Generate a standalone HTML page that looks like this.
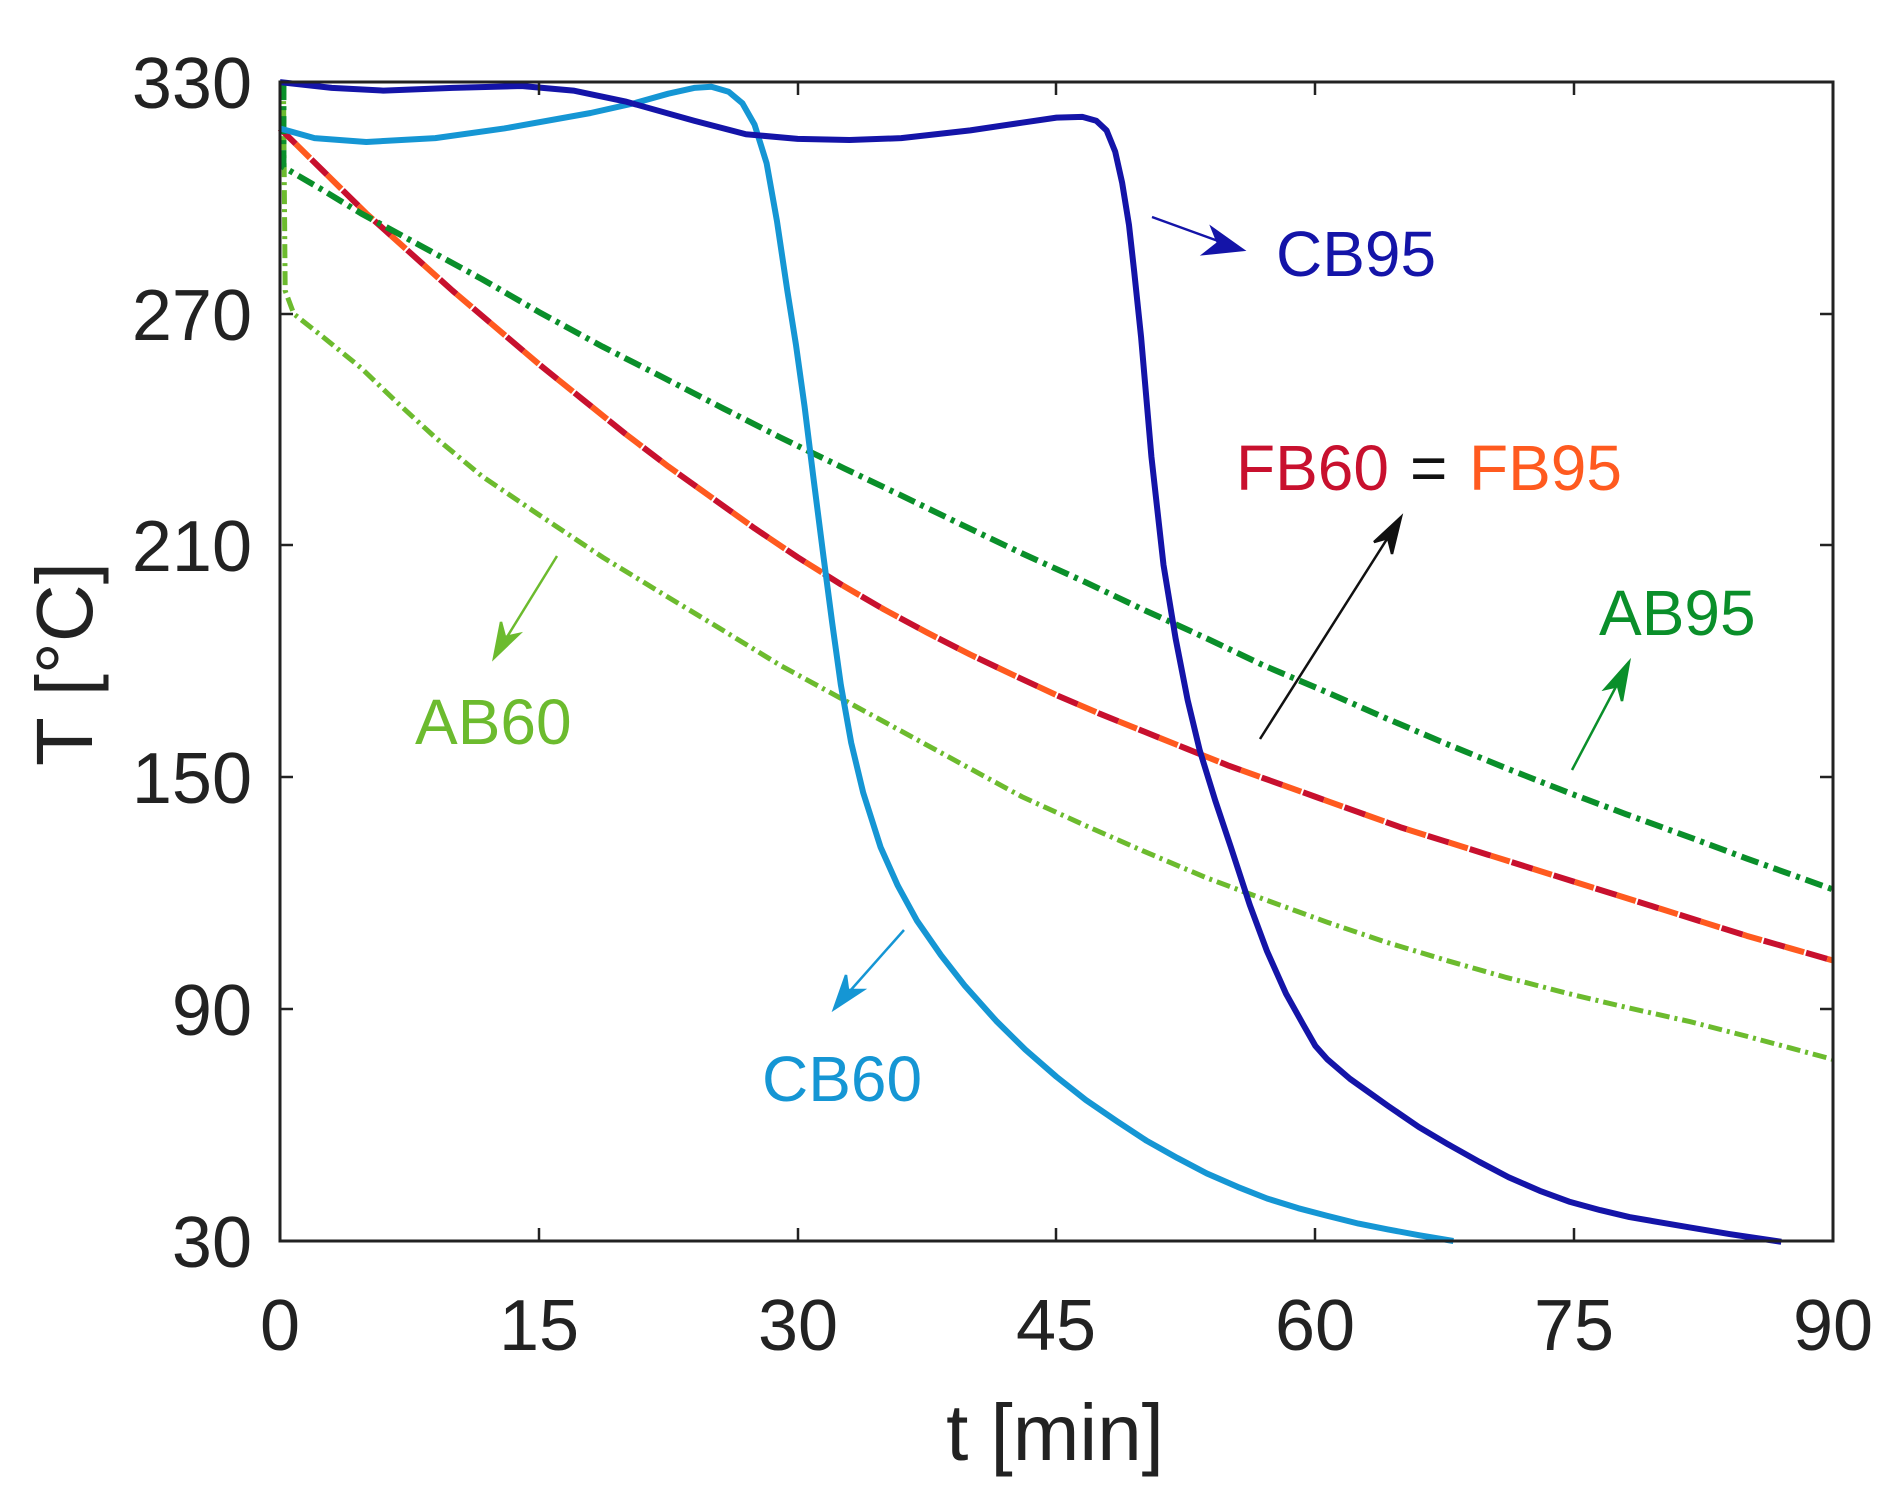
<!DOCTYPE html>
<html><head><meta charset="utf-8"><style>
html,body{margin:0;padding:0;background:#fff;}
svg{display:block;font-family:"Liberation Sans",sans-serif;}
</style></head><body>
<svg width="1892" height="1503" viewBox="0 0 1892 1503" xmlns="http://www.w3.org/2000/svg">
<g transform="translate(280,1241) scale(17.256,-3.863) translate(0,-30)" fill="none" stroke-linejoin="round" stroke-linecap="butt">
<!-- AB60 -->
<path vector-effect="non-scaling-stroke" stroke="#6cbb2e" stroke-width="5" stroke-dasharray="14 5 3 5" d="M0.2,330 L0.3,276 L0.8,270 L2.5,264 L4.7,256 L6.8,247 L9,238 L11.7,228 L15,218 L18.7,207 L22,198 L25.7,188 L29,179 L32.7,170 L36,162 L39.7,153 L43,145 L46.7,137.5 L50,131 L53.7,124 L57,118.5 L60.7,112.5 L64,107.5 L67.7,102.5 L71,98.3 L74.7,94 L78,90.5 L81.7,86.8 L85,83 L87.5,80 L90,77"/>
<!-- FB red/orange -->
<path vector-effect="non-scaling-stroke" stroke="#c8102e" stroke-width="6" stroke-dasharray="22 22" d="M0,318 L2.5,307 L5,296 L7.5,286 L10,276 L12.5,266.5 L15,257 L17.5,248 L20,239 L22.5,230.5 L25,222.5 L27.5,214.5 L30,207 L32.5,200 L35,193.5 L37.5,187.5 L40,181.8 L42.5,176.5 L45,171.3 L47.5,166.5 L50,162 L52.5,157.5 L55,153 L57.5,149 L60,145 L62.5,141 L65,137 L67.5,133.5 L70,130 L72.5,126.5 L75,123 L77.5,119.5 L80,116 L82.5,112.5 L85,109 L87.5,105.8 L90,102.6"/>
<path vector-effect="non-scaling-stroke" stroke="#ff5a1f" stroke-width="6" stroke-dasharray="20 24" stroke-dashoffset="22" d="M0,318 L2.5,307 L5,296 L7.5,286 L10,276 L12.5,266.5 L15,257 L17.5,248 L20,239 L22.5,230.5 L25,222.5 L27.5,214.5 L30,207 L32.5,200 L35,193.5 L37.5,187.5 L40,181.8 L42.5,176.5 L45,171.3 L47.5,166.5 L50,162 L52.5,157.5 L55,153 L57.5,149 L60,145 L62.5,141 L65,137 L67.5,133.5 L70,130 L72.5,126.5 L75,123 L77.5,119.5 L80,116 L82.5,112.5 L85,109 L87.5,105.8 L90,102.6"/>
<!-- AB95 -->
<path vector-effect="non-scaling-stroke" stroke="#0a8f2a" stroke-width="6" stroke-dasharray="18 6 4 6" d="M0.2,330 L0.2,308 L2.5,302 L4.7,296 L8,288 L11.7,279 L15,270.5 L18.7,261.5 L22,254 L25.7,245.5 L29,238 L32.7,230 L36,223 L39.7,215 L43,208 L46.7,200.5 L50,193.5 L53.7,186 L57,179 L60.7,172 L64,165.5 L67.7,158.5 L71,152.5 L74.7,146 L78,140.5 L81.7,134.5 L85,129 L90,121"/>
<!-- CB60 -->
<path vector-effect="non-scaling-stroke" stroke="#1596d4" stroke-width="6" d="M0,318 L2,315.5 L5,314.5 L9,315.5 L13,318 L18,322 L20.5,324.5 L22.5,327 L24,328.5 L25,328.8 L26,327.5 L26.8,324.5 L27.5,319 L28.2,309 L28.8,294 L29.4,276 L29.9,262 L30.4,246 L30.9,228 L31.5,207 L32,190 L32.5,174 L33.1,159 L33.8,146 L34.8,132 L35.8,122 L36.9,113 L38.3,104 L39.7,96 L41.5,87 L43.2,79.5 L45,72.5 L46.7,66.5 L48.5,61 L50.2,56 L52,51.5 L53.7,47.5 L55.5,44 L57.2,41 L59,38.5 L60.7,36.5 L62.5,34.5 L64.2,33 L66,31.5 L68,30"/>
<!-- CB95 -->
<path vector-effect="non-scaling-stroke" stroke="#1414a8" stroke-width="6" d="M0,330 L3,328.5 L6,327.8 L10,328.5 L14,329 L17,327.8 L20,325 L24,320 L27,316.5 L30,315.3 L33,315 L36,315.5 L40,317.5 L43,319.5 L45,320.8 L46.5,321 L47.3,320 L47.9,317.5 L48.4,312 L48.8,304 L49.2,293 L49.5,281 L49.9,264 L50.5,233 L51.2,205 L51.9,186 L52.6,170 L53.3,157 L54.2,144 L55.1,132 L56.2,117 L57.2,105 L58.3,94 L59.3,86 L60,80.5 L60.7,77 L62,72 L64.2,65 L66,59.5 L67.7,55 L69.5,50.5 L71.2,46.5 L73,43 L74.7,40.2 L76.5,38 L78.2,36.2 L80,34.8 L81.7,33.5 L84,31.8 L87,29.8"/>
</g>
<!-- axes box -->
<rect x="280" y="82" width="1553" height="1159" fill="none" stroke="#222" stroke-width="3"/>
<g stroke="#222" stroke-width="2.5">
<path d="M539,1241v-13M798,1241v-13M1056,1241v-13M1315,1241v-13M1574,1241v-13
M539,82v13M798,82v13M1056,82v13M1315,82v13M1574,82v13
M280,1009h13M280,777h13M280,545h13M280,314h13
M1833,1009h-13M1833,777h-13M1833,545h-13M1833,314h-13"/>
</g>
<g font-size="72" fill="#222" text-anchor="end">
<text x="252" y="108">330</text>
<text x="252" y="340">270</text>
<text x="252" y="571">210</text>
<text x="252" y="803">150</text>
<text x="252" y="1035">90</text>
<text x="252" y="1267">30</text>
</g>
<g font-size="72" fill="#222" text-anchor="middle">
<text x="280" y="1350">0</text>
<text x="539" y="1350">15</text>
<text x="798" y="1350">30</text>
<text x="1056" y="1350">45</text>
<text x="1315" y="1350">60</text>
<text x="1574" y="1350">75</text>
<text x="1833" y="1350">90</text>
</g>
<text x="1055" y="1460" font-size="80" fill="#222" text-anchor="middle">t [min]</text>
<text transform="translate(92,664) rotate(-90)" font-size="80" fill="#222" text-anchor="middle">T [°C]</text>
<!-- labels -->
<text x="1276" y="276" font-size="64" fill="#1414a8">CB95</text>
<text x="1236" y="490" font-size="64" fill="#c8102e">FB60</text>
<text x="1410" y="490" font-size="64" fill="#111">=</text>
<text x="1469" y="490" font-size="64" fill="#ff5a1f">FB95</text>
<text x="1599" y="635" font-size="64" fill="#0a8f2a">AB95</text>
<text x="415" y="744" font-size="64" fill="#6cbb2e">AB60</text>
<text x="762" y="1101" font-size="64" fill="#1596d4">CB60</text>
<!-- arrows -->
<g stroke-width="2.5" fill="none">
<line x1="1152" y1="217" x2="1243" y2="250" stroke="#1414a8"/>
<path d="M1243,250 L1212,228 L1218,243 L1204,254 z" fill="#1414a8" stroke="#1414a8"/>
<line x1="1260" y1="739" x2="1401" y2="517" stroke="#111"/>
<path d="M1401,517 L1374,542 L1388,538 L1392,554 z" fill="#111" stroke="#111"/>
<line x1="1572" y1="770" x2="1629" y2="662" stroke="#0a8f2a"/>
<path d="M1629,662 L1605,689 L1618,686 L1622,701 z" fill="#0a8f2a" stroke="#0a8f2a"/>
<line x1="557" y1="556" x2="494" y2="658" stroke="#6cbb2e"/>
<path d="M494,658 L501,622 L505,637 L519,634 z" fill="#6cbb2e" stroke="#6cbb2e"/>
<line x1="904" y1="930" x2="834" y2="1009" stroke="#1596d4"/>
<path d="M834,1009 L846,975 L848,990 L863,990 z" fill="#1596d4" stroke="#1596d4"/>
</g>
</svg>
</body></html>
